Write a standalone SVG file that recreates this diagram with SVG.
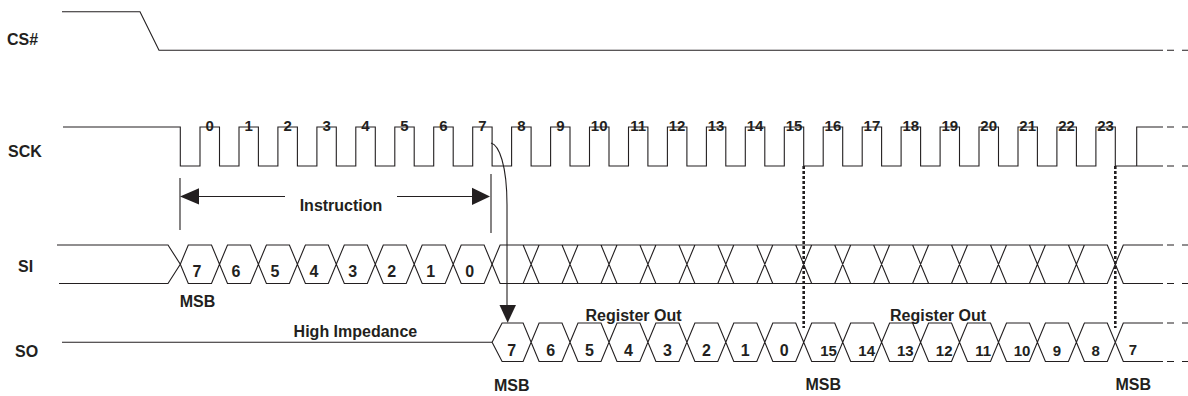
<svg xmlns="http://www.w3.org/2000/svg" width="1188" height="396" viewBox="0 0 1188 396">
<style>
.w{fill:none;stroke:#231f20;stroke-width:1.1}
.d{fill:none;stroke:#231f20;stroke-width:1.1;stroke-dasharray:7 8}
.dot{fill:none;stroke:#231f20;stroke-width:2.6;stroke-dasharray:3 2}
.t{font-family:"Liberation Sans",Arial,sans-serif;font-weight:bold;font-size:16px;fill:#231f20}
.n{font-family:"Liberation Sans",Arial,sans-serif;font-weight:bold;font-size:15px;fill:#231f20;text-anchor:middle}
.m{font-size:16px}
.c{text-anchor:middle}
.ah{fill:#231f20}
</style>
<rect width="1188" height="396" fill="#ffffff"/>
<g id="labels">
<text class="t" x="7" y="45">CS#</text>
<text class="t" x="8" y="157">SCK</text>
<text class="t" x="18" y="272">SI</text>
<text class="t" x="15" y="357">SO</text>
</g>
<g id="cs">
<path class="w" d="M62,11.7H140L159,50.3H1163"/>
<path class="d" d="M1167,50.3H1188"/>
</g>
<g id="sck">
<path class="w" d="M63,127H180.3V166H200V127H219.5V166H239V127H258.4V166H277.9V127H297.4V166H316.9V127H336.3V166H355.8V127H375.3V166H394.8V127H414.2V166H433.7V127H453.2V166H472.7V127H492.1V166H511.6V127H531.1V166H550.6V127H570V166H589.5V127H609V166H628.5V127H647.9V166H667.4V127H686.9V166H706.4V127H725.8V166H745.3V127H764.8V166H784.3V127H803.7V166H823.2V127H842.7V166H862.2V127H881.6V166H901.1V127H920.6V166H940.1V127H959.5V166H979V127H998.5V166H1018V127H1037.4V166H1056.9V127H1076.4V166H1095.9V127H1115.3V166H1163M1136.7,166V127H1163"/>
<path class="d" d="M1167,127H1188M1167,166H1188"/>
<g class="n">
<text x="209.7" y="130.5">0</text><text x="248.7" y="130.5">1</text><text x="287.6" y="130.5">2</text><text x="326.6" y="130.5">3</text><text x="365.5" y="130.5">4</text><text x="404.5" y="130.5">5</text><text x="443.4" y="130.5">6</text><text x="482.4" y="130.5">7</text><text x="521.3" y="130.5">8</text><text x="560.3" y="130.5">9</text><text x="599.2" y="130.5">10</text><text x="638.2" y="130.5">11</text><text x="677.1" y="130.5">12</text><text x="716.1" y="130.5">13</text><text x="755" y="130.5">14</text><text x="794" y="130.5">15</text><text x="832.9" y="130.5">16</text><text x="871.9" y="130.5">17</text><text x="910.8" y="130.5">18</text><text x="949.8" y="130.5">19</text><text x="988.7" y="130.5">20</text><text x="1027.7" y="130.5">21</text><text x="1066.6" y="130.5">22</text><text x="1105.6" y="130.5">23</text>
</g>
</g>
<g id="instruction">
<path class="w" d="M180,178V230M491,174V233M199,196.5H285M397,196.5H472"/>
<polygon class="ah" points="180,196.5 199,188.3 199,204.5"/>
<polygon class="ah" points="490,196.5 472,187.8 472,205"/>
<text class="t c" x="341" y="210.5">Instruction</text>
</g>
<g id="si">
<path class="w" d="M57,245H168L180.3,264.25L168,283.5H59"/>
<path class="w" d="M180.3,264.25L188.3,245H211.5L219.5,264.25L211.5,283.5H188.3Z M219.5,264.25L227.5,245H250.4L258.4,264.25L250.4,283.5H227.5Z M258.4,264.25L266.4,245H289.4L297.4,264.25L289.4,283.5H266.4Z M297.4,264.25L305.4,245H328.3L336.3,264.25L328.3,283.5H305.4Z M336.3,264.25L344.3,245H367.3L375.3,264.25L367.3,283.5H344.3Z M375.3,264.25L383.3,245H406.2L414.2,264.25L406.2,283.5H383.3Z M414.2,264.25L422.2,245H445.2L453.2,264.25L445.2,283.5H422.2Z M453.2,264.25L461.2,245H484.1L492.1,264.25L484.1,283.5H461.2Z"/>
<path class="w" d="M492.1,264.25L500.1,245H1107.3L1115.3,264.25L1107.3,283.5H500.1Z M523.1,245L539.1,283.5M523.1,283.5L539.1,245 M562,245L578,283.5M562,283.5L578,245 M601,245L617,283.5M601,283.5L617,245 M639.9,245L655.9,283.5M639.9,283.5L655.9,245 M678.9,245L694.9,283.5M678.9,283.5L694.9,245 M717.8,245L733.8,283.5M717.8,283.5L733.8,245 M756.8,245L772.8,283.5M756.8,283.5L772.8,245 M795.7,245L811.7,283.5M795.7,283.5L811.7,245 M834.7,245L850.7,283.5M834.7,283.5L850.7,245 M873.6,245L889.6,283.5M873.6,283.5L889.6,245 M912.6,245L928.6,283.5M912.6,283.5L928.6,245 M951.5,245L967.5,283.5M951.5,283.5L967.5,245 M990.5,245L1006.5,283.5M990.5,283.5L1006.5,245 M1029.4,245L1045.4,283.5M1029.4,283.5L1045.4,245 M1068.4,245L1084.4,283.5M1068.4,283.5L1084.4,245"/>
<path class="w" d="M1115.3,264.25L1123.3,245H1163M1115.3,264.25L1123.3,283.5H1163"/>
<path class="d" d="M1167,245H1188M1167,283.5H1188"/>
<g class="n m">
<text x="196.9" y="276.5">7</text><text x="236" y="276.5">6</text><text x="274.9" y="276.5">5</text><text x="313.9" y="276.5">4</text><text x="352.8" y="276.5">3</text><text x="391.8" y="276.5">2</text><text x="430.7" y="276.5">1</text><text x="469.7" y="276.5">0</text>
</g>
<text class="t c" x="197.5" y="307">MSB</text>
</g>
<g id="so">
<path class="w" d="M62,342.25H492.1"/>
<path class="w" d="M492.1,342.25L502.1,323H523.1L531.1,342.25L523.1,361.5H502.1Z M531.1,342.25L539.1,323H562L570,342.25L562,361.5H539.1Z M570,342.25L578,323H601L609,342.25L601,361.5H578Z M609,342.25L617,323H639.9L647.9,342.25L639.9,361.5H617Z M647.9,342.25L655.9,323H678.9L686.9,342.25L678.9,361.5H655.9Z M686.9,342.25L694.9,323H717.8L725.8,342.25L717.8,361.5H694.9Z M725.8,342.25L733.8,323H756.8L764.8,342.25L756.8,361.5H733.8Z M764.8,342.25L772.8,323H795.7L803.7,342.25L795.7,361.5H772.8Z M803.7,342.25L811.7,323H834.7L842.7,342.25L834.7,361.5H811.7Z M842.7,342.25L850.7,323H873.6L881.6,342.25L873.6,361.5H850.7Z M881.6,342.25L889.6,323H912.6L920.6,342.25L912.6,361.5H889.6Z M920.6,342.25L928.6,323H951.5L959.5,342.25L951.5,361.5H928.6Z M959.5,342.25L967.5,323H990.5L998.5,342.25L990.5,361.5H967.5Z M998.5,342.25L1006.5,323H1029.4L1037.4,342.25L1029.4,361.5H1006.5Z M1037.4,342.25L1045.4,323H1068.4L1076.4,342.25L1068.4,361.5H1045.4Z M1076.4,342.25L1084.4,323H1107.3L1115.3,342.25L1107.3,361.5H1084.4Z"/>
<path class="w" d="M1115.3,342.25L1123.3,323H1163M1115.3,342.25L1123.3,361.5H1163"/>
<path class="d" d="M1167,323H1188M1167,361.5H1188"/>
<g class="n m">
<text x="511.6" y="355.5">7</text><text x="550.6" y="355.5">6</text><text x="589.5" y="355.5">5</text><text x="628.5" y="355.5">4</text><text x="667.4" y="355.5">3</text><text x="706.4" y="355.5">2</text><text x="745.3" y="355.5">1</text><text x="784.3" y="355.5">0</text>
</g>
<g class="n">
<text x="828.5" y="356">15</text><text x="866.7" y="356">14</text><text x="905.3" y="356">13</text><text x="944.2" y="356">12</text><text x="983.3" y="356">11</text><text x="1022" y="356">10</text><text x="1056.9" y="356">9</text><text x="1095.6" y="356">8</text><text x="1133" y="355">7</text>
</g>
<text class="t c" x="355.4" y="337.3">High Impedance</text>
<text class="t c" x="633.5" y="320.7">Register Out</text>
<text class="t c" x="938" y="320.7">Register Out</text>
<text class="t c" x="511.7" y="391">MSB</text>
<text class="t c" x="823.3" y="390">MSB</text>
<text class="t c" x="1133.3" y="390">MSB</text>
</g>
<g id="connectors">
<path class="w" d="M491,143C499,145 507,165 507,205V306"/>
<polygon class="ah" points="499.5,305 516,305 507.7,322.7"/>
<path class="dot" d="M803.7,166V328M1115.3,166V328"/>
</g>
</svg>
